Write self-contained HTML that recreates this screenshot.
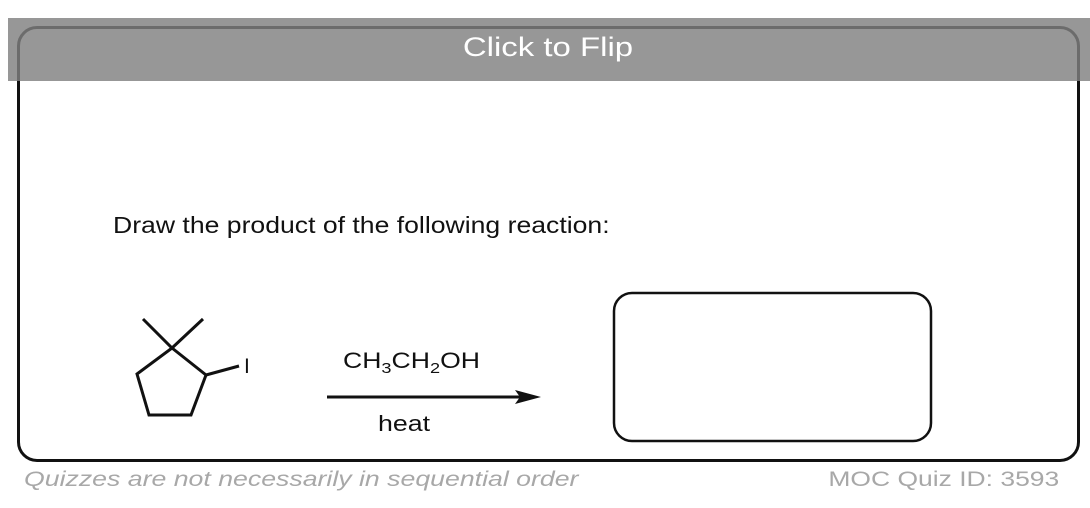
<!DOCTYPE html>
<html><head><style>
body{margin:0;width:1090px;height:508px;background:#fff;position:relative;overflow:hidden;font-family:"Liberation Sans",sans-serif}
.abs{position:absolute;white-space:nowrap}
</style></head><body>
<div class="abs" style="left:17px;top:26px;width:1057px;height:430px;border:3px solid #111;border-radius:20px"></div>
<div class="abs" style="left:8px;top:18px;width:1082px;height:63px;background:rgba(128,128,128,0.82)"></div>
<div class="abs" style="left:548px;top:32px;color:#fff;font-size:27px;transform:translateX(-50%) scaleX(1.22)">Click to Flip</div>
<div class="abs" style="left:113px;top:212px;font-size:23px;color:#111;transform-origin:0 0;transform:scaleX(1.156)">Draw the product of the following reaction:</div>
<svg class="abs" style="left:0;top:0" width="1090" height="508">
<g stroke="#111" stroke-width="3" fill="none" stroke-linejoin="miter">
<polyline points="143,319 172,348 203,319"/>
<polygon points="172,348 206,375 191,415 149,415 137,374"/>
<line x1="206" y1="375" x2="239" y2="366"/>
<line x1="327" y1="397" x2="525" y2="397"/>
</g>
<polygon points="541,397 515,390 520,397 515,404" fill="#111"/>
<text x="244" y="373" font-size="21" font-family="Liberation Sans" fill="#111">I</text>
<text x="343" y="368" font-size="22" font-family="Liberation Sans" fill="#111" textLength="137" lengthAdjust="spacingAndGlyphs">CH<tspan font-size="15" dy="5">3</tspan><tspan dy="-5">CH</tspan><tspan font-size="15" dy="5">2</tspan><tspan dy="-5">OH</tspan></text>
<text x="378" y="431" font-size="22" font-family="Liberation Sans" fill="#111" textLength="52" lengthAdjust="spacingAndGlyphs">heat</text>
<rect x="614" y="293" width="317" height="148" rx="18" fill="none" stroke="#111" stroke-width="2.5"/>
</svg>
<div class="abs" style="left:24px;top:468px;font-size:21px;color:#a8a8a8;font-style:italic;transform-origin:0 0;transform:scaleX(1.27)">Quizzes are not necessarily in sequential order</div>
<div class="abs" style="right:31px;top:468px;font-size:21px;color:#a8a8a8;transform-origin:100% 0;transform:scaleX(1.26)">MOC Quiz ID: 3593</div>
</body></html>
